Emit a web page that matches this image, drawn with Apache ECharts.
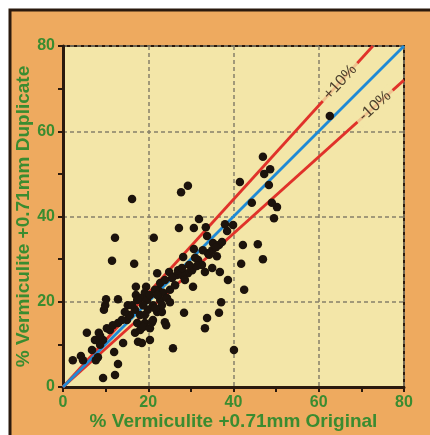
<!DOCTYPE html>
<html>
<head>
<meta charset="utf-8">
<script src="https://cdn.jsdelivr.net/npm/echarts@6/dist/echarts.min.js"></script>
<style>
  html, body { margin: 0; padding: 0; background: #fff; }
  #chart { width: 430px; height: 435px; }
</style>
</head>
<body>
<div id="chart"></div>
<script>
  // axis ticks
  var axisMin = 0
  var axisMax = 80
  var tickStep = 20

  // [original, duplicate] pairs
  var samples = [
    [2.3, 6.3], [4.2, 7.3], [4.7, 6.3], [5.6, 12.7], [6.8, 8.7], [7.7, 6.3], [8.2, 7.0], [8.4, 12.7],
    [9.4, 2.1], [9.4, 11.0], [9.6, 18.1], [9.9, 19.2], [10.1, 20.6], [10.3, 13.8], [8.7, 9.9], [11.5, 29.6],
    [12.2, 35.0], [12.0, 8.2], [12.2, 2.8], [12.9, 5.4], [12.9, 15.0], [12.9, 20.6], [14.1, 10.3], [15.0, 15.7],
    [15.7, 16.9], [16.7, 28.9], [17.1, 23.5], [17.1, 21.6], [16.9, 18.1], [17.4, 15.0], [16.9, 12.7], [17.6, 10.6],
    [18.5, 10.3], [18.1, 16.9], [18.1, 13.4], [19.2, 15.0], [19.5, 23.5], [19.2, 22.1], [18.1, 20.9], [16.2, 44.1],
    [18.8, 14.1], [20.4, 13.8], [20.9, 15.2], [19.9, 18.1], [20.4, 11.0], [21.1, 19.2], [21.1, 15.7], [21.3, 35.0],
    [22.1, 26.7], [22.3, 22.8], [22.1, 17.6], [22.8, 20.4], [22.8, 18.1], [23.2, 17.6], [23.5, 22.1], [23.9, 15.2],
    [24.2, 14.5], [24.4, 20.9], [24.9, 27.0], [25.1, 19.9], [25.8, 9.1], [26.7, 26.3], [28.2, 26.7], [29.3, 26.7],
    [28.2, 30.5], [28.4, 17.4], [27.7, 45.7], [29.3, 47.2], [30.5, 23.5], [30.7, 37.3], [30.7, 32.4], [31.9, 39.4],
    [31.7, 29.8], [32.6, 28.6], [33.5, 37.5], [33.3, 27.0], [33.8, 35.4], [33.8, 16.2], [33.3, 13.8], [34.0, 31.4],
    [35.0, 27.9], [35.2, 33.8], [36.1, 30.7], [36.6, 33.3], [36.8, 27.0], [36.6, 17.4], [37.1, 19.9], [37.3, 34.0],
    [38.0, 38.2], [38.5, 36.6], [38.7, 25.1], [39.9, 38.0], [40.1, 8.7], [41.8, 28.9], [42.2, 33.3], [42.5, 22.8],
    [45.7, 33.5], [46.9, 30.0], [41.5, 48.1], [44.3, 43.2], [49.0, 43.2], [50.2, 42.2], [49.5, 39.6], [48.3, 47.4],
    [47.2, 50.0], [48.6, 51.1], [46.9, 54.0], [62.6, 63.6], [27.9, 26.3], [27.2, 37.3],
    [19.7, 20.4], [20.4, 21.6], [21.6, 22.8], [18.8, 19.2], [22.8, 24.4], [23.9, 25.1], [25.6, 25.6], [27.0, 27.4],
    [28.6, 25.1], [30.3, 27.4], [31.4, 28.4], [34.3, 31.0], [35.0, 32.1], [35.9, 32.8], [15.2, 19.2], [14.5, 17.6],
    [16.2, 19.2], [17.4, 20.4], [13.8, 15.7], [11.0, 13.4], [11.7, 14.5], [7.5, 11.0], [8.7, 12.0], [22.1, 21.6],
    [23.2, 19.2], [25.1, 22.8], [26.3, 23.9], [19.2, 16.9], [21.6, 18.5], [29.6, 28.6], [27.9, 27.9], [31.0, 30.3],
    [32.8, 32.1]
  ]

  // reference lines: 1:1 and +/-10 %
  var oneToOne = [[0, 0], [80, 80]]
  var plusTen = [[0, 0], [72.7, 80]]
  var minusTen = [[0, 0], [80, 72]]
  // where the band labels sit on their lines
  var bandLabels = [
    { value: [65, 71.5], text: '+10%', angle: 47.7 },
    { value: [73.2, 65.9], text: '-10%', angle: 42 }
  ]

  var green = '#3a8c30'
  var dark = '#2a1a0e'
  var plotBg = '#f3e6a8'

  var myChart = echarts.init(document.getElementById('chart'))

  function axis(name, gap) {
    return {
      type: 'value',
      min: axisMin,
      max: axisMax,
      interval: tickStep,
      name: name,
      nameLocation: 'middle',
      nameGap: gap,
      nameMoveOverlap: false,
      nameTextStyle: { color: green, fontSize: 19, fontWeight: 'bold', fontFamily: 'Liberation Sans' },
      axisLine: { show: true, lineStyle: { color: dark, width: 3 } },
      axisTick: { show: true, length: 5, lineStyle: { color: dark, width: 2 } },
      minorTick: { show: true, splitNumber: 2, length: 5, lineStyle: { color: dark, width: 2 } },
      axisLabel: { color: green, fontSize: 16, fontWeight: 'bold', fontFamily: 'Liberation Sans', margin: 8 },
      splitLine: { show: true, lineStyle: { color: '#86806a', width: 1.5, type: [4, 3] } }
    }
  }

  myChart.setOption({
    animation: false,
    backgroundColor: '#fff',
    graphic: [{
      type: 'rect',
      z: -10,
      shape: { x: 10, y: 10, width: 440, height: 440 },
      style: { fill: '#eeaa5f', stroke: dark, lineWidth: 3 }
    }],
    grid: {
      left: 63,
      right: 26,
      top: 46,
      bottom: 48,
      outerBoundsMode: 'none',
      show: true,
      backgroundColor: plotBg,
      borderColor: dark,
      borderWidth: 2
    },
    xAxis: axis('% Vermiculite +0.71mm Original', 25),
    yAxis: axis('% Vermiculite +0.71mm Duplicate', 30),
    series: [
      {
        name: '+10%',
        type: 'line',
        data: plusTen,
        symbol: 'none',
        lineStyle: { color: '#e0322a', width: 2.8 }
      },
      {
        name: '-10%',
        type: 'line',
        data: minusTen,
        symbol: 'none',
        lineStyle: { color: '#e0322a', width: 2.8 }
      },
      {
        name: '1:1',
        type: 'line',
        data: oneToOne,
        symbol: 'none',
        lineStyle: { color: '#1f8ad6', width: 2.8 }
      },
      {
        name: 'labels',
        type: 'scatter',
        symbolSize: 0,
        z: 4,
        data: bandLabels.map(function (d) {
          return {
            value: d.value,
            label: {
              show: true,
              position: 'inside',
              formatter: d.text,
              rotate: d.angle,
              color: '#1e140c',
              fontSize: 16,
              fontFamily: 'Liberation Sans',
              backgroundColor: plotBg,
              padding: [0, 5]
            }
          }
        })
      },
      {
        name: 'samples',
        type: 'scatter',
        data: samples,
        symbolSize: 8.5,
        z: 5,
        itemStyle: { color: '#1c130c', opacity: 1 }
      }
    ]
  })
</script>
</body>
</html>
